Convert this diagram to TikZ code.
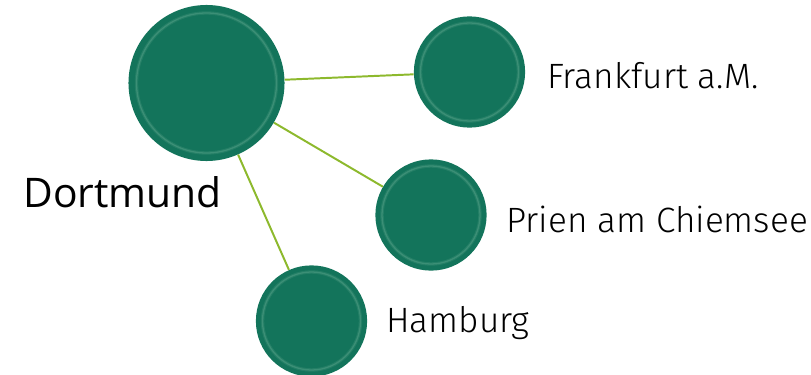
\documentclass[tikz,border=0pt]{standalone}
\usepackage{fontspec}
\setmainfont{Open Sans}
\newfontfamily\thinfont{Fira Sans}[UprightFont=* Light]
\definecolor{cityGreen}{RGB}{19,116,91}
\definecolor{cityRing}{RGB}{70,150,125}
\definecolor{linkGreen}{RGB}{141,185,45}

\begin{document}
\begin{tikzpicture}[
  x=0.025cm, y=-0.025cm,
  bigcity/.style={circle,fill=cityGreen,inner sep=0,minimum size=3.9cm},
  city/.style={circle,fill=cityGreen,inner sep=0,minimum size=2.78cm},
  ring/.style={cityRing,line width=2.4pt,opacity=.35},
  rim/.style={cityRing,line width=.9pt,opacity=.7},
  link/.style={linkGreen,line width=1.4pt},
  place/.style={anchor=base west,inner sep=0,font=\thinfont\fontsize{25}{28}\selectfont}
]
  \useasboundingbox (0,0) rectangle (811,375);

  % the hub and the three destinations
  \node[bigcity] (dortmund) at (206.5,83) {};
  \node[city] (frankfurt) at (469.5,72) {};
  \node[city] (prien) at (431,215) {};
  \node[city] (hamburg) at (311.5,321) {};

  % soft inner rim on each disc
  \draw[ring] (dortmund.center) circle[radius=70];
  \draw[rim] (dortmund.center) circle[radius=70];
  \foreach \n in {frankfurt,prien,hamburg}{
    \draw[ring] (\n.center) circle[radius=49];
    \draw[rim] (\n.center) circle[radius=49];
  }

  % connections from Dortmund
  \foreach \n in {frankfurt,prien,hamburg}
    \draw[link] (dortmund) -- (\n);

  % names
  \node[anchor=base west,inner sep=0,font=\fontsize{29}{34}\selectfont]
    (dortmundname) at (23,207) {Dortmund};
  \node[place] (frankfurtname) at (547,88) {Frankfurt a.M.};
  \node[place] (prienname) at (506,232) {Prien am Chiemsee};
  \node[place] (hamburgname) at (386,332) {Hamburg};
\end{tikzpicture}
\end{document}
